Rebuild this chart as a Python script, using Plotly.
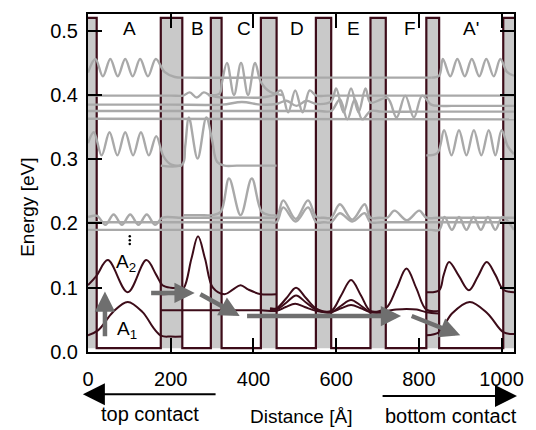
import plotly.graph_objects as go

# ---------------- data (Å, eV) ----------------
bar_lo = [0, 176, 297, 418, 551, 683, 818, 1004]
bar_hi = [21, 228, 323, 456, 588, 720, 849, 1030]
band_top = 0.52
band_bot = 0.006

# dark (lower) states
m_a1_x = [0, 25, 60, 96, 132, 160, 178, 200, 228]
m_a1_e = [0.026, 0.034, 0.062, 0.078, 0.062, 0.036, 0.025, 0.024, 0.024]
m_a2_x = [0, 20, 48, 96, 141, 165, 180, 200, 228]
m_a2_e = [0.104, 0.118, 0.143, 0.093, 0.143, 0.12, 0.104, 0.10, 0.10]
m_b_x = [176, 215, 232, 250, 266, 283, 302, 330, 350, 369, 388, 418, 456]
m_b_e = [0.09, 0.092, 0.10, 0.145, 0.180, 0.145, 0.10, 0.09, 0.097, 0.104, 0.097, 0.09, 0.09]
m_i1_x = [176, 240, 300, 360, 418, 456, 478, 501, 524, 551, 588, 612, 636, 660, 683, 720, 745, 770, 795, 818, 849]
m_i1_e = [0.065, 0.065, 0.065, 0.065, 0.065, 0.064, 0.07, 0.075, 0.07, 0.064, 0.062, 0.068, 0.073, 0.068, 0.062, 0.064, 0.066, 0.067, 0.066, 0.062, 0.060]
m_i2_x = [440, 456, 480, 503, 527, 551, 588, 612, 636, 660, 683, 720, 746, 770, 794, 818, 849]
m_i2_e = [0.068, 0.068, 0.084, 0.100, 0.084, 0.068, 0.064, 0.088, 0.112, 0.088, 0.064, 0.068, 0.099, 0.130, 0.099, 0.066, 0.064]
m_i3_x = [440, 456, 480, 503, 527, 551, 588, 612, 636, 660, 683, 720]
m_i3_e = [0.066, 0.066, 0.077, 0.088, 0.077, 0.066, 0.062, 0.072, 0.081, 0.072, 0.062, 0.062]
m_ap2_x = [818, 849, 860, 873, 897, 921, 943, 964, 985, 1004, 1030]
m_ap2_e = [0.093, 0.096, 0.12, 0.140, 0.118, 0.096, 0.118, 0.140, 0.12, 0.097, 0.093]
m_ap1_x = [818, 849, 880, 923, 966, 1004, 1030]
m_ap1_e = [0.026, 0.031, 0.06, 0.078, 0.06, 0.031, 0.028]

# grey (upper) states
g_a_hi_x = [0, 18, 36, 54, 72, 90, 108, 126, 145, 164, 185, 210, 240, 420, 620, 800, 830]
g_a_hi_e = [0.435, 0.456, 0.429, 0.456, 0.429, 0.456, 0.429, 0.456, 0.429, 0.456, 0.436, 0.428, 0.427, 0.427, 0.427, 0.427, 0.427]
g_ap_hi_x = [830, 849, 858, 876, 893, 911, 928, 946, 963, 981, 997, 1013, 1030]
g_ap_hi_e = [0.427, 0.430, 0.456, 0.429, 0.456, 0.429, 0.456, 0.429, 0.456, 0.429, 0.456, 0.436, 0.430]
g_a_lo_x = [0, 14, 33, 52, 71, 90, 109, 128, 147, 165, 182, 200, 228]
g_a_lo_e = [0.325, 0.342, 0.306, 0.342, 0.306, 0.342, 0.306, 0.342, 0.306, 0.336, 0.305, 0.292, 0.29]
g_ap_lo_x = [818, 845, 861, 879, 897, 915, 933, 951, 969, 985, 1000, 1015, 1030]
g_ap_lo_e = [0.306, 0.31, 0.345, 0.306, 0.345, 0.306, 0.345, 0.306, 0.345, 0.306, 0.345, 0.32, 0.308]
g_b_x = [176, 228, 235, 244, 265, 286, 300, 312, 330, 360, 420, 456]
g_b_e = [0.29, 0.292, 0.32, 0.365, 0.301, 0.365, 0.33, 0.296, 0.29, 0.29, 0.29, 0.29]
g_c_hi_x = [290, 318, 324, 336, 353, 370, 387, 404, 418, 440, 470]
g_c_hi_e = [0.40, 0.402, 0.42, 0.45, 0.40, 0.45, 0.40, 0.45, 0.42, 0.405, 0.40]
g_c_lo_x = [232, 270, 300, 321, 341, 369, 396, 420, 440, 456]
g_c_lo_e = [0.213, 0.213, 0.213, 0.218, 0.270, 0.213, 0.270, 0.218, 0.213, 0.213]
c1_x = [0, 100, 200, 230, 246, 263, 280, 297, 324, 370, 418, 450, 466, 484, 501, 519, 536, 552, 580, 650, 750, 850, 950, 1030]
c1_e = [0.399, 0.399, 0.399, 0.399, 0.404, 0.396, 0.404, 0.399, 0.396, 0.396, 0.396, 0.40, 0.407, 0.373, 0.407, 0.373, 0.407, 0.399, 0.399, 0.399, 0.399, 0.399, 0.399, 0.399]
c2_x = [0, 100, 200, 324, 372, 418, 456, 480, 504, 528, 552, 588, 600, 618, 636, 654, 671, 683, 724, 746, 767, 788, 808, 830, 849, 880, 950, 1030]
c2_e = [0.385, 0.385, 0.385, 0.385, 0.389, 0.385, 0.386, 0.391, 0.383, 0.391, 0.386, 0.39, 0.41, 0.373, 0.41, 0.373, 0.41, 0.388, 0.395, 0.365, 0.399, 0.365, 0.399, 0.385, 0.383, 0.383, 0.383, 0.383]
c3_x = [0, 150, 300, 450, 560, 588, 609, 627, 645, 663, 683, 710, 800, 900, 1030]
c3_e = [0.375, 0.375, 0.375, 0.375, 0.375, 0.375, 0.393, 0.362, 0.393, 0.362, 0.375, 0.374, 0.374, 0.374, 0.374]
c4_x = [0, 1030]
c4_e = [0.363, 0.362]
l1_x = [0, 22, 42, 62, 82, 102, 122, 142, 162, 180, 220, 300, 400, 436, 456, 472, 502, 532, 552, 570, 588, 609, 639, 669, 683, 705, 724, 741, 771, 801, 818, 850, 950, 1030]
l1_e = [0.21, 0.212, 0.198, 0.214, 0.198, 0.214, 0.198, 0.214, 0.198, 0.209, 0.209, 0.209, 0.209, 0.209, 0.21, 0.236, 0.207, 0.236, 0.21, 0.209, 0.209, 0.23, 0.206, 0.23, 0.209, 0.209, 0.209, 0.22, 0.205, 0.22, 0.209, 0.209, 0.209, 0.209]
l2_x = [0, 150, 300, 420, 440, 456, 472, 502, 532, 552, 570, 588, 609, 639, 669, 683, 710, 850, 1030]
l2_e = [0.202, 0.202, 0.202, 0.202, 0.202, 0.202, 0.225, 0.203, 0.225, 0.202, 0.202, 0.202, 0.216, 0.203, 0.216, 0.202, 0.202, 0.202, 0.202]
l3_x = [0, 200, 400, 600, 800, 830, 849, 862, 880, 897, 915, 932, 950, 967, 985, 1002, 1030]
l3_e = [0.19, 0.19, 0.19, 0.19, 0.19, 0.19, 0.19, 0.21, 0.19, 0.21, 0.19, 0.21, 0.19, 0.21, 0.19, 0.21, 0.19]

# grey transport arrows (tail -> head)
arr_tail_x = [41, 149, 268, 381, 779]
arr_tail_e = [0.022, 0.092, 0.091, 0.056, 0.057]
arr_head_x = [41, 258, 367, 757, 900]
arr_head_e = [0.094, 0.092, 0.056, 0.056, 0.026]

region_names = ["A", "B", "C", "D", "E", "F", "A'"]
region_x = [100, 264, 377, 505, 642, 779, 925]
region_e = 0.503

dots_x = [101, 101, 101]
dots_e = [0.168, 0.174, 0.180]

x_ticks = [0, 200, 400, 600, 800, 1000]
y_ticks = [0.0, 0.1, 0.2, 0.3, 0.4, 0.5]

# ---------------- figure ----------------
MAROON = "#3d0c19"
GREY = "#a9a9a9"
BARFILL = "#c9c9c9"
ARROWG = "#6f6f6f"
FONT = "Liberation Sans, Arial, sans-serif"

fig = go.Figure()

shapes = []
for lo, hi in zip(bar_lo, bar_hi):
    shapes.append(dict(type="rect", xref="x", yref="y", x0=lo, x1=hi,
                       y0=band_bot, y1=band_top, fillcolor=BARFILL,
                       line=dict(width=0), layer="below"))

# band edge
bx, be = [bar_lo[0]], [band_top]
for i, (lo, hi) in enumerate(zip(bar_lo, bar_hi)):
    if i > 0:
        bx += [lo, lo]
        be += [band_bot, band_top]
    bx += [hi]
    be += [band_top]
    if i < len(bar_lo) - 1:
        bx += [hi]
        be += [band_bot]
fig.add_trace(go.Scatter(x=bx, y=be, mode="lines",
                         line=dict(color=MAROON, width=2.2), hoverinfo="skip"))

grey_states = [
    (c4_x, c4_e), (c3_x, c3_e), (c2_x, c2_e), (c1_x, c1_e),
    (l3_x, l3_e), (l2_x, l2_e), (l1_x, l1_e),
    (g_a_hi_x, g_a_hi_e), (g_ap_hi_x, g_ap_hi_e),
    (g_a_lo_x, g_a_lo_e), (g_ap_lo_x, g_ap_lo_e),
    (g_b_x, g_b_e), (g_c_hi_x, g_c_hi_e), (g_c_lo_x, g_c_lo_e),
]
for xs, es in grey_states:
    fig.add_trace(go.Scatter(x=xs, y=es, mode="lines",
                             line=dict(color=GREY, width=2.4, shape="spline", smoothing=1.0),
                             hoverinfo="skip"))

dark_states = [
    (m_a1_x, m_a1_e), (m_a2_x, m_a2_e), (m_b_x, m_b_e),
    (m_i1_x, m_i1_e), (m_i2_x, m_i2_e), (m_i3_x, m_i3_e),
    (m_ap2_x, m_ap2_e), (m_ap1_x, m_ap1_e),
]
for xs, es in dark_states:
    fig.add_trace(go.Scatter(x=xs, y=es, mode="lines",
                             line=dict(color=MAROON, width=2.0, shape="spline", smoothing=1.0),
                             hoverinfo="skip"))

fig.add_trace(go.Scatter(x=dots_x, y=dots_e, mode="markers",
                         marker=dict(color="black", size=2.5), hoverinfo="skip"))

ann = []
for tx, te, hx, he in zip(arr_tail_x, arr_tail_e, arr_head_x, arr_head_e):
    ann.append(dict(x=hx, y=he, ax=tx, ay=te, xref="x", yref="y", axref="x", ayref="y",
                    text="", showarrow=True, arrowhead=2, arrowsize=0.9,
                    arrowwidth=4.5, arrowcolor=ARROWG))

for name, rx in zip(region_names, region_x):
    ann.append(dict(x=rx, y=region_e, xref="x", yref="y", text=name, showarrow=False,
                    xanchor="center", yanchor="middle",
                    font=dict(family=FONT, size=19, color="black")))

ann.append(dict(x=91, y=0.139, xref="x", yref="y", text="A<sub>2</sub>", showarrow=False,
                xanchor="center", yanchor="middle",
                font=dict(family=FONT, size=19, color="black")))
ann.append(dict(x=95, y=0.034, xref="x", yref="y", text="A<sub>1</sub>", showarrow=False,
                xanchor="center", yanchor="middle",
                font=dict(family=FONT, size=19, color="black")))

# bottom contact arrows and texts (domain coordinates)
ann.append(dict(x=-0.012, y=-0.125, ax=0.303, ay=-0.125,
                xref="x domain", yref="y domain", axref="x domain", ayref="y domain",
                text="", showarrow=True, arrowhead=2, arrowsize=2.2, arrowwidth=2,
                arrowcolor="black"))
ann.append(dict(x=1.007, y=-0.13, ax=0.688, ay=-0.13,
                xref="x domain", yref="y domain", axref="x domain", ayref="y domain",
                text="", showarrow=True, arrowhead=2, arrowsize=2.2, arrowwidth=2,
                arrowcolor="black"))
ann.append(dict(x=0.1445, y=-0.183, xref="paper", yref="paper", text="top contact",
                xanchor="center", yanchor="middle",
                showarrow=False, font=dict(family=FONT, size=20, color="black")))
ann.append(dict(x=0.851, y=-0.188, xref="paper", yref="paper", text="bottom contact",
                xanchor="center", yanchor="middle",
                showarrow=False, font=dict(family=FONT, size=20, color="black")))
ann.append(dict(x=0.499, y=-0.192, xref="paper", yref="paper", text="Distance [Å]",
                xanchor="center", yanchor="middle",
                showarrow=False, font=dict(family=FONT, size=19, color="black")))
ann.append(dict(x=-0.142, y=0.428, xref="paper", yref="paper", text="Energy [eV]",
                xanchor="center", yanchor="middle",
                textangle=-90, showarrow=False, font=dict(family=FONT, size=19, color="black")))

fig.update_layout(
    width=536, height=430,
    margin=dict(l=88, r=19, t=13, b=78),
    paper_bgcolor="white", plot_bgcolor="white",
    showlegend=False,
    shapes=shapes, annotations=ann,
    xaxis=dict(range=[0, 1030], tickvals=x_ticks, ticktext=[str(v) for v in x_ticks],
               ticks="inside", ticklen=14, tickwidth=2, tickcolor="black",
               showline=True, linewidth=2, linecolor="black", mirror="ticks",
               showgrid=False, zeroline=False, ticklabelstandoff=8,
               tickfont=dict(family=FONT, size=20, color="black")),
    yaxis=dict(range=[0, 0.526], tickvals=y_ticks, ticktext=[f"{v:.1f}" for v in y_ticks],
               ticks="inside", ticklen=14, tickwidth=2, tickcolor="black",
               showline=True, linewidth=2, linecolor="black", mirror="ticks",
               showgrid=False, zeroline=False, ticklabelstandoff=4,
               tickfont=dict(family=FONT, size=20, color="black")),
)

fig.write_html("out.html")
